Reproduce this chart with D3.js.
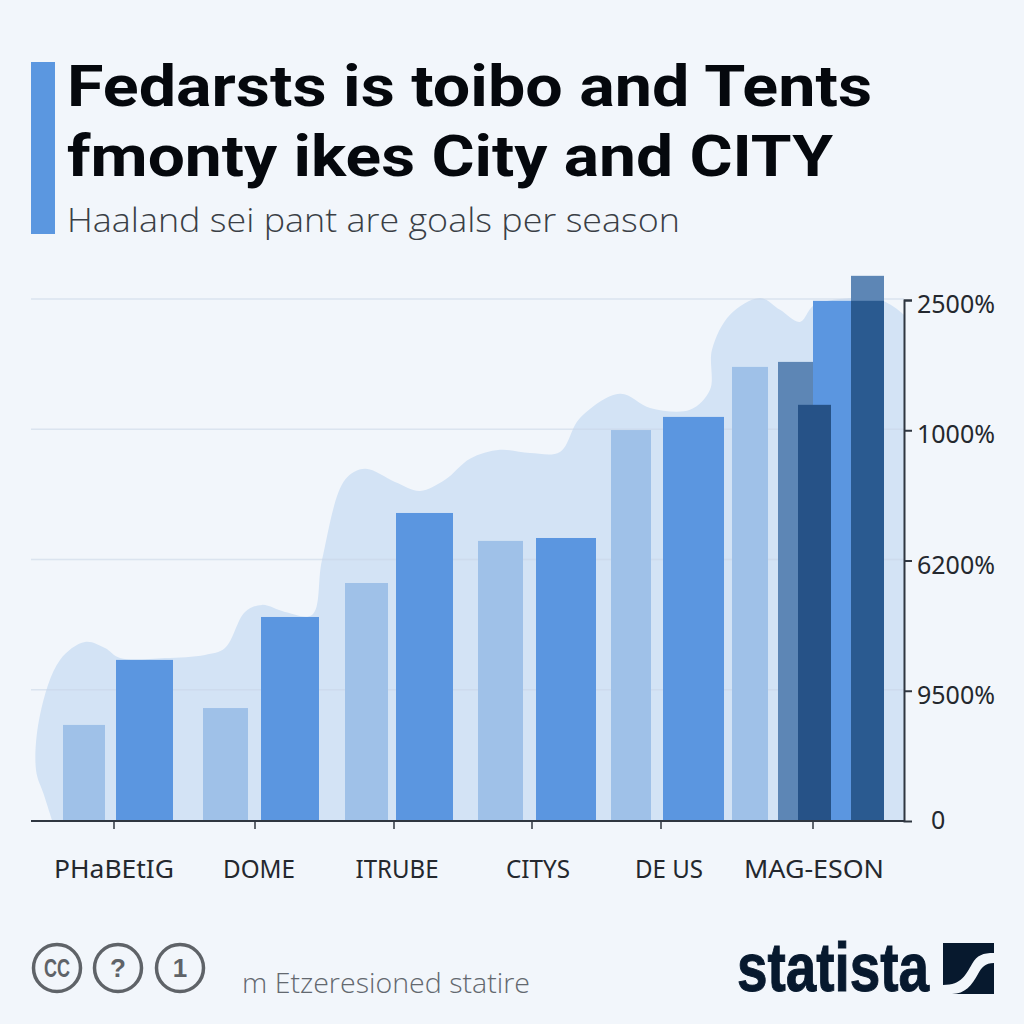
<!DOCTYPE html>
<html><head><meta charset="utf-8">
<script src="https://cdn.jsdelivr.net/npm/d3@7"></script>
<style>html,body{margin:0;padding:0;background:#f2f6fb}svg{display:block}text{font-family:"Noto Sans",sans-serif}</style>
</head><body><svg id="c" width="1024" height="1024"></svg>
<script>
const titleLines = ["Fedarsts is toibo and Tents", "fmonty ikes City and CITY"];
const subtitle = "Haaland sei pant are goals per season";
const categories = ["PHaBEtIG", "DOME", "ITRUBE", "CITYS", "DE US", "MAG-ESON"];
const categoryTicks = [83, 224, 363, 501, 630, 782];
const categoryLabelAt = [83, 228, 366, 507, 638, 783];
const categoryWidth = [120, 72, 83, 64, 68, 140];
const yTickValues = [0, 625, 1250, 1875, 2500];
const yTickLabels = ["0", "9500%", "6200%", "1000%", "2500%"];
const footerText = "m Etzeresioned statire";
const badges = ["CC", "?", "1"];

// bars, in drawing order
const barKind  = ["light","mid","light","mid","light","mid","light","mid","light","mid","light","slate","mid","dark","slate","overlap"];
const barStart = [32, 85, 172, 230, 314, 365, 447, 505, 580, 632, 701, 747, 782, 767, 820, 820];
const barEnd   = [74, 142, 217, 288, 357, 422, 492, 565, 620, 693, 737, 782, 820, 800, 853, 853];
const barValue = [461, 773, 542, 979, 1142, 1478, 1344, 1358, 1876, 1939, 2179, 2203, 2496, 1997, 2616, 2496];

// background silhouette
const areaX = [21,13,5,9,29,54,74,89,134,174,194,214,231,254,281,291,314,334,364,389,414,439,469,499,529,549,589,619,659,679,681,699,729,749,769,784,849,873];
const areaV = [5,125,245,509,773,859,830,782,782,797,830,1003,1037,1003,989,1253,1637,1690,1627,1584,1637,1738,1781,1766,1771,1934,2050,1982,1973,2069,2261,2429,2510,2453,2395,2477,2500,2429];

const colors = {light:"#9fc1e8", mid:"#5b96e0", slate:"#5d86b5", dark:"#265287", overlap:"#2a5a90"};

const svg = d3.select("#c");
const x = d3.scaleLinear().domain([0, 873]).range([31, 904]);
const y = d3.scaleLinear().domain([0, 2500]).range([821, 300]);

svg.append("rect").attr("width",1024).attr("height",1024).attr("fill","#f2f6fb");

// title block
svg.append("rect").attr("x",31).attr("y",62).attr("width",24).attr("height",172).attr("fill","#5b97e0");
const titleW = [805, 766];
svg.selectAll(".t").data(titleLines).join("text").attr("class","t")
  .attr("x",67).attr("y",(d,i)=>i?176:106)
  .attr("font-size",58).attr("font-weight",700).attr("fill","#05080d").style("font-family","Roboto,sans-serif")
  .attr("textLength",(d,i)=>titleW[i]).attr("lengthAdjust","spacingAndGlyphs").text(d=>d);
svg.append("text").attr("x",67).attr("y",232).attr("font-size",33).attr("font-weight",300).attr("fill","#3a3f46")
  .style("font-family","'Open Sans',sans-serif")
  .attr("textLength",613).attr("lengthAdjust","spacingAndGlyphs").text(subtitle);

// area
const outline = areaX.map((d,i)=>[x(d), y(areaV[i])]);
const line = d3.line().curve(d3.curveCatmullRom.alpha(0.5));
svg.append("path")
  .attr("d", line(outline) + `L${x(873)},${y(0)}L${x(21)},${y(0)}Z`)
  .attr("fill","#d3e3f5");

// gridlines
svg.selectAll(".g").data(yTickValues.slice(1)).join("line").attr("class","g")
  .attr("x1",x(0)).attr("x2",x(873)).attr("y1",d=>y(d)-1).attr("y2",d=>y(d)-1)
  .attr("stroke","#c9d6e6").attr("stroke-opacity",.55).attr("stroke-width",1.5);

// bars
svg.selectAll(".b").data(barKind).join("rect").attr("class","b")
  .attr("x",(d,i)=>x(barStart[i])).attr("width",(d,i)=>x(barEnd[i])-x(barStart[i]))
  .attr("y",(d,i)=>y(barValue[i])).attr("height",(d,i)=>y(0)-y(barValue[i]))
  .attr("fill",d=>colors[d]);

// y axis
const yAxis = d3.axisRight(y).tickValues(yTickValues)
  .tickFormat(d=>yTickLabels[yTickValues.indexOf(d)]).tickSize(8).tickPadding(5);
const gy = svg.append("g").attr("transform",`translate(${x(873)},0)`).call(yAxis);
gy.select(".domain").attr("stroke","#2f3640").attr("stroke-width",2);
gy.selectAll(".tick line").attr("stroke","#2f3640").attr("stroke-width",2);
gy.selectAll(".tick text").attr("font-size",25).attr("fill","#24282e")
  .attr("font-family",'"Noto Sans",sans-serif').attr("dy","0.5em");
gy.selectAll(".tick").filter(d=>d===0).select("line").remove();
gy.selectAll(".tick").filter(d=>d===0).select("text").attr("x",27).attr("dy","0.3em");

// x axis
svg.append("line").attr("x1",x(0)).attr("x2",x(873)).attr("y1",y(0)).attr("y2",y(0))
  .attr("stroke","#2f3640").attr("stroke-width",2);
svg.selectAll(".xt").data(categoryTicks).join("line").attr("class","xt")
  .attr("x1",d=>x(d)).attr("x2",d=>x(d)).attr("y1",y(0)).attr("y2",y(0)+8)
  .attr("stroke","#2f3640").attr("stroke-width",1.5);
svg.selectAll(".xl").data(categories).join("text").attr("class","xl")
  .attr("x",(d,i)=>x(categoryLabelAt[i])).attr("y",878).attr("text-anchor","middle")
  .attr("font-size",25).attr("fill","#24282e")
  .attr("textLength",(d,i)=>categoryWidth[i]).attr("lengthAdjust","spacingAndGlyphs").text(d=>d);

// footer badges
const bx = [57,118,180];
const bg = svg.selectAll(".bd").data(badges).join("g").attr("class","bd").attr("transform",(d,i)=>`translate(${bx[i]},968)`);
bg.append("circle").attr("r",23.5).attr("fill","none").attr("stroke","#5f6368").attr("stroke-width",3.5);
bg.append("text").attr("text-anchor","middle").attr("y",9).attr("font-size",26).attr("font-weight",700)
  .attr("fill","#5f6368").style("font-family",'"Liberation Sans",sans-serif')
  .attr("textLength",(d,i)=>i===0?26:null).attr("lengthAdjust","spacingAndGlyphs").text(d=>d);
svg.append("text").attr("x",242).attr("y",993).attr("font-size",27).attr("font-weight",300).attr("fill","#63686f")
  .style("font-family","'Open Sans',sans-serif")
  .attr("textLength",288).attr("lengthAdjust","spacingAndGlyphs").text(footerText);

// statista mark
svg.append("text").attr("x",737).attr("y",991).attr("font-size",68).attr("font-weight",700).attr("fill","#07192e")
  .attr("stroke","#07192e").attr("stroke-width",1)
  .style("font-family",'"Liberation Sans",sans-serif')
  .attr("textLength",192).attr("lengthAdjust","spacingAndGlyphs").text("statista");
svg.append("rect").attr("x",943).attr("y",943).attr("width",51).attr("height",51).attr("fill","#07192e");
svg.append("path").attr("d","M943,985 C962,985 966,974 972,964 C977,955 983,953 994,953 L994,963 C985,963 982,967 978,974 C972,985 965,994 952,994 L943,994 Z")
  .attr("fill","#f2f6fb");
</script></body></html>
